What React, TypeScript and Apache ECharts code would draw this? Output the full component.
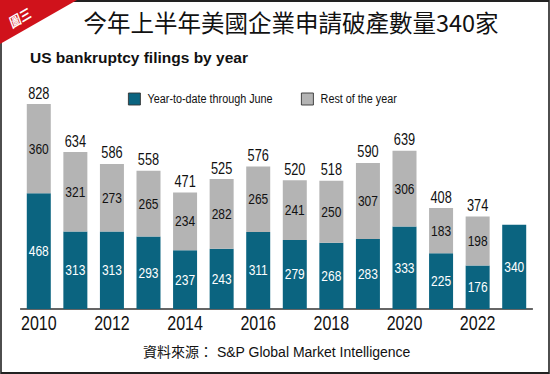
import React, { useEffect, useRef } from "react";
import * as echarts from "echarts";

const years = ["2010", "2011", "2012", "2013", "2014", "2015", "2016", "2017", "2018", "2019", "2020", "2021", "2022", "2023"];
const ytdThroughJune = [468, 313, 313, 293, 237, 243, 311, 279, 268, 283, 333, 225, 176, 340];
const restOfYear: (number | string)[] = [360, 321, 273, 265, 234, 282, 265, 241, 250, 307, 306, 183, 198, "-"];
const yearTotals: (number | string)[] = [828, 634, 586, 558, 471, 525, 576, 520, 518, 590, 639, 408, 374, "-"];

const titleText = "今年上半年美國企業申請破產數量340家";
const subtitleText = "US bankruptcy filings by year";
const sourceText = "資料來源： S&P Global Market Intelligence";
const ytdName = "Year-to-date through June";
const restName = "Rest of the year";

// The reference uses a condensed Latin face; emulate it by drawing the chart
// wider and squeezing it horizontally. Texts that are not condensed are
// counter-scaled.
const K = 0.8;
const W = Math.round(550 / K);
const sx = (x: number) => x / K;

const SANS = "'Liberation Sans', Arial, sans-serif";
const CJK = "'Noto Sans CJK TC', 'Noto Sans CJK SC', sans-serif";

export default function App() {
  const ref = useRef<HTMLDivElement>(null);
  useEffect(() => {
    if (!ref.current) return;
    const chart = echarts.init(ref.current, undefined, { renderer: "svg" });
    const legendCommon = {
      top: 87,
      itemWidth: sx(12),
      itemHeight: 12,
      icon: "rect",
      itemStyle: { borderColor: "#333", borderWidth: 1 },
      textStyle: { fontFamily: SANS, fontSize: 13.5, color: "#111", padding: [0, 0, 0, 4] },
      selectedMode: false,
    };
    chart.setOption({
      animation: false,
      backgroundColor: "#ffffff",
      grid: { left: sx(20.5), right: W - sx(532.5), top: 104, bottom: 65 },
      legend: [
        { ...legendCommon, data: [ytdName], left: sx(124) },
        { ...legendCommon, data: [restName], left: sx(297) },
      ],
      xAxis: {
        type: "category",
        data: years,
        axisLine: { lineStyle: { color: "#333", width: 1.5 } },
        axisTick: { show: false },
        axisLabel: {
          interval: 1,
          fontSize: 20,
          fontFamily: SANS,
          color: "#111",
          margin: 4,
        },
      },
      yAxis: { type: "value", min: 0, max: 828, show: false },
      series: [
        {
          name: ytdName,
          type: "bar",
          stack: "total",
          data: ytdThroughJune,
          barWidth: sx(24),
          itemStyle: { color: "#0b6480" },
          label: {
            show: true,
            position: "inside",
            color: "#ffffff",
            fontSize: 15,
            fontFamily: SANS,
          },
        },
        {
          name: restName,
          type: "bar",
          stack: "total",
          data: restOfYear,
          barWidth: sx(24),
          itemStyle: { color: "#b4b4b4" },
          label: {
            show: true,
            position: "inside",
            color: "#111",
            fontSize: 15,
            fontFamily: SANS,
          },
        },
        {
          name: "total",
          type: "bar",
          data: yearTotals,
          barWidth: sx(24),
          barGap: "-100%",
          silent: true,
          z: 1,
          itemStyle: { color: "rgba(0,0,0,0)" },
          label: {
            show: true,
            position: "top",
            distance: 3,
            color: "#111",
            fontSize: 16,
            fontFamily: SANS,
          },
        },
      ],
      graphic: [
        {
          type: "rect",
          shape: { x: sx(1), y: 1, width: sx(548), height: 372 },
          style: { fill: "none", stroke: "#222", lineWidth: 2 },
          silent: true,
        },
        {
          type: "polygon",
          shape: { points: [[0, 0], [sx(77), 0], [0, 44]] },
          style: { fill: "#d0121b" },
          silent: true,
        },
        {
          type: "text",
          x: sx(20),
          y: 17,
          rotation: (25 * Math.PI) / 180,
          style: {
            text: "圖三",
            fill: "#ffffff",
            font: `bold 14px ${CJK}`,
            align: "center",
            verticalAlign: "middle",
          },
          silent: true,
        },
        {
          type: "text",
          x: sx(291),
          y: 22,
          scaleX: 1 / K,
          style: {
            text: titleText,
            fill: "#111",
            font: `23.5px ${CJK}`,
            align: "center",
            verticalAlign: "middle",
          },
        },
        {
          type: "text",
          x: sx(30),
          y: 57,
          scaleX: 1 / K,
          style: {
            text: subtitleText,
            fill: "#111",
            font: `bold 15.5px ${SANS}`,
            align: "left",
            verticalAlign: "middle",
          },
        },
        {
          type: "text",
          x: sx(143),
          y: 352,
          scaleX: 1 / K,
          style: {
            text: sourceText,
            fill: "#111",
            font: `14px 'Liberation Sans', ${CJK}`,
            align: "left",
            verticalAlign: "middle",
          },
        },
      ],
    });
    return () => chart.dispose();
  }, []);
  return (
    <div
      style={{ position: "absolute", left: 0, top: 0, width: 550, height: 374, overflow: "hidden" }}
    >
      <div
        ref={ref}
        style={{
          width: W,
          height: 374,
          transform: `scaleX(${K})`,
          transformOrigin: "0 0",
        }}
      />
    </div>
  );
}
